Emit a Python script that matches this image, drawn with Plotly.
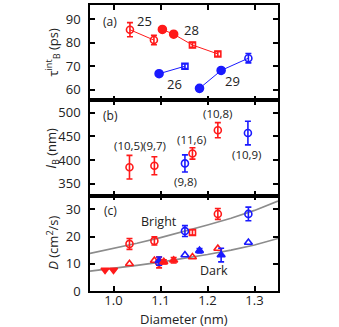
import plotly.graph_objects as go
from plotly.subplots import make_subplots

RED = "#ff1a1a"
BLUE = "#1a1aff"
GRAY = "#8c8c8c"

# ---- panel (a): tau_B^int (ps)
a25_x, a25_y, a25_err = [1.035, 1.086], [85.5, 81.1], [3.0, 2.0]
a28_fx, a28_fy = [1.104, 1.128], [85.6, 83.6]
a28_sx, a28_sy, a28_serr = [1.168, 1.222], [79.0, 75.2], [1.0, 1.0]
a26_fx, a26_fy = [1.097], [66.8]
a26_sx, a26_sy, a26_serr = [1.152], [70.0], [1.0]
a29_fx, a29_fy = [1.183, 1.229], [60.6, 68.2]
a29_ox, a29_oy, a29_oerr = [1.287], [73.4], [2.0]

# ---- panel (b): l_B (nm)
b_red_x = [1.034, 1.087, 1.168, 1.222]
b_red_y = [385, 388, 414, 463]
b_red_err = [25, 19, 12, 16]
b_blue_x = [1.152, 1.286]
b_blue_y = [393, 457]
b_blue_err = [18, 25]
b_labels = ["(10,5)", "(9,7)", "(9,8)", "(11,6)", "(10,8)", "(10,9)"]
b_label_x = [1.034, 1.087, 1.153, 1.168, 1.222, 1.285]
b_label_y = [430, 430, 354, 444, 499, 412]

# ---- panel (c): D (cm^2/s)
c_rc_x, c_rc_y, c_rc_err = [1.034, 1.087, 1.097, 1.222], [17.3, 18.4, 10.5, 28.3], [2.0, 1.5, 2.0, 2.0]
c_rs_x, c_rs_y, c_rs_err = [1.168], [21.5], [1.0]
c_rt_x, c_rt_y = [1.034, 1.087, 1.168, 1.222], [10.0, 11.2, 12.5, 15.6]
c_rft_x, c_rft_y, c_rft_err = [1.107, 1.128], [10.7, 11.3], [0.8, 1.0]
c_rdt_x, c_rdt_y = [0.982, 1.0], [7.7, 7.7]
c_bc_x, c_bc_y, c_bc_err = [1.152, 1.287], [22.0, 28.3], [2.0, 2.5]
c_bt_x, c_bt_y = [1.152, 1.287], [13.2, 17.8]
c_bft_x, c_bft_y, c_bft_err = [1.097, 1.183, 1.229], [11.0, 14.8, 13.2], [1.5, 0.8, 2.5]
fit_x = [0.95, 1.0, 1.05, 1.1, 1.15, 1.2, 1.25, 1.3, 1.35]
fit_bright = [13.8, 15.6, 17.5, 19.6, 21.8, 24.2, 26.7, 29.6, 33.0]
fit_dark = [7.3, 8.3, 9.4, 10.6, 11.9, 13.4, 15.0, 16.9, 19.3]

fig = make_subplots(rows=3, cols=1, shared_xaxes=True, vertical_spacing=0)


def pts(x, y, color, symbol, row, e=None, size=7):
    fig.add_trace(go.Scatter(
        x=x, y=y, mode="markers",
        marker=dict(symbol=symbol, color=color, size=size,
                    line=dict(color=color, width=1.6)),
        error_y=dict(type="data", array=e, color=color, thickness=1.6, width=3,
                     visible=e is not None),
        showlegend=False,
    ), row=row, col=1)


def line(x, y, color, row, width=1.0):
    fig.add_trace(go.Scatter(x=x, y=y, mode="lines",
                             line=dict(color=color, width=width),
                             showlegend=False, hoverinfo="skip"), row=row, col=1)


# panel (a)
line(a25_x, a25_y, RED, 1)
line(a28_fx + a28_sx, a28_fy + a28_sy, RED, 1)
line(a26_fx + a26_sx, a26_fy + a26_sy, BLUE, 1)
line(a29_fx + a29_ox, a29_fy + a29_oy, BLUE, 1)
pts(a25_x, a25_y, RED, "circle-open", 1, a25_err)
pts(a28_fx, a28_fy, RED, "circle", 1, size=8)
pts(a28_sx, a28_sy, RED, "square-open", 1, a28_serr, 6)
pts(a26_fx, a26_fy, BLUE, "circle", 1, size=8)
pts(a26_sx, a26_sy, BLUE, "square-open", 1, a26_serr, 6)
pts(a29_fx, a29_fy, BLUE, "circle", 1, size=8)
pts(a29_ox, a29_oy, BLUE, "circle-open", 1, a29_oerr)

# panel (b)
pts(b_red_x, b_red_y, RED, "circle-open", 2, b_red_err)
pts(b_blue_x, b_blue_y, BLUE, "circle-open", 2, b_blue_err)

# panel (c)
line(fit_x, fit_bright, GRAY, 3, 1.6)
line(fit_x, fit_dark, GRAY, 3, 1.6)
pts(c_rdt_x, c_rdt_y, RED, "triangle-down", 3)
pts(c_rt_x, c_rt_y, RED, "triangle-up-open", 3)
pts(c_bt_x, c_bt_y, BLUE, "triangle-up-open", 3)
pts(c_rc_x, c_rc_y, RED, "circle-open", 3, c_rc_err)
pts(c_rs_x, c_rs_y, RED, "square-open", 3, c_rs_err, 6)
pts(c_bc_x, c_bc_y, BLUE, "circle-open", 3, c_bc_err)
pts(c_bft_x, c_bft_y, BLUE, "triangle-up", 3, c_bft_err)
pts(c_rft_x, c_rft_y, RED, "triangle-up", 3, c_rft_err)

FONT = "Open Sans, Noto Sans, sans-serif"
TXT = "#222"
ann = []


def text(x, y, s, row, size=12):
    ref = "" if row == 1 else str(row)
    ann.append(dict(x=x, y=y, xref="x" + ref, yref="y" + ref, text=s,
                    showarrow=False, font=dict(size=size, color=TXT)))


def title(x, y, s, angle=0):
    ann.append(dict(x=x, y=y, xref="paper", yref="paper", text=s, textangle=angle,
                    showarrow=False, xanchor="center", yanchor="middle",
                    font=dict(size=13, color=TXT, family=FONT)))


text(0.993, 89.0, "(a)", 1)
text(1.067, 89.3, "25", 1, 13)
text(1.166, 85.4, "28", 1, 13)
text(1.130, 62.3, "26", 1, 13)
text(1.253, 63.8, "29", 1, 13)
text(0.993, 495, "(b)", 2)
for lx, ly, s in zip(b_label_x, b_label_y, b_labels):
    text(lx, ly, s, 2, 11.5)
text(0.993, 29.7, "(c)", 3)
text(1.097, 25.6, "Bright", 3, 12.5)
text(1.213, 7.6, "Dark", 3, 12.5)

# axis titles as paper annotations (plot area: x 90..278, y 5..291)
title(-0.2, 0.835, "τ<sup>int</sup><sub>B</sub> (ps)", -90)
title(-0.2, 0.5, "<i>l</i><sub>B</sub> (nm)", -90)
title(-0.2, 0.17, "<i>D</i> (cm<sup>2</sup>/s)", -90)
title(0.5, -0.097, "Diameter (nm)")

axis_style = dict(showline=True, linecolor="black", linewidth=1.5, mirror="allticks",
                  ticks="inside", ticklen=5, tickwidth=1.5, tickcolor="black",
                  showgrid=False, zeroline=False, automargin=False,
                  tickfont=dict(size=13, color=TXT, family=FONT))
fig.update_xaxes(**axis_style, range=[0.95, 1.35], tickvals=[1.0, 1.1, 1.2, 1.3],
                 ticktext=["1.0", "1.1", "1.2", "1.3"], ticklabelstandoff=-3)
fig.update_yaxes(**axis_style, ticklabelstandoff=5)
fig.update_yaxes(range=[55.5, 96], tickvals=[60, 70, 80, 90], row=1, col=1)
fig.update_yaxes(range=[325, 526], tickvals=[350, 400, 450, 500], row=2, col=1)
fig.update_yaxes(range=[0, 35], tickvals=[0, 10, 20, 30], row=3, col=1)

fig.update_layout(
    width=339, height=327,
    margin=dict(l=90, r=61, t=5, b=36),
    paper_bgcolor="white", plot_bgcolor="white",
    font=dict(family=FONT, color=TXT),
    annotations=ann,
    showlegend=False,
)

fig.write_html("out.html", config={"displayModeBar": False},
               post_script="document.body.style.margin='0px';")
